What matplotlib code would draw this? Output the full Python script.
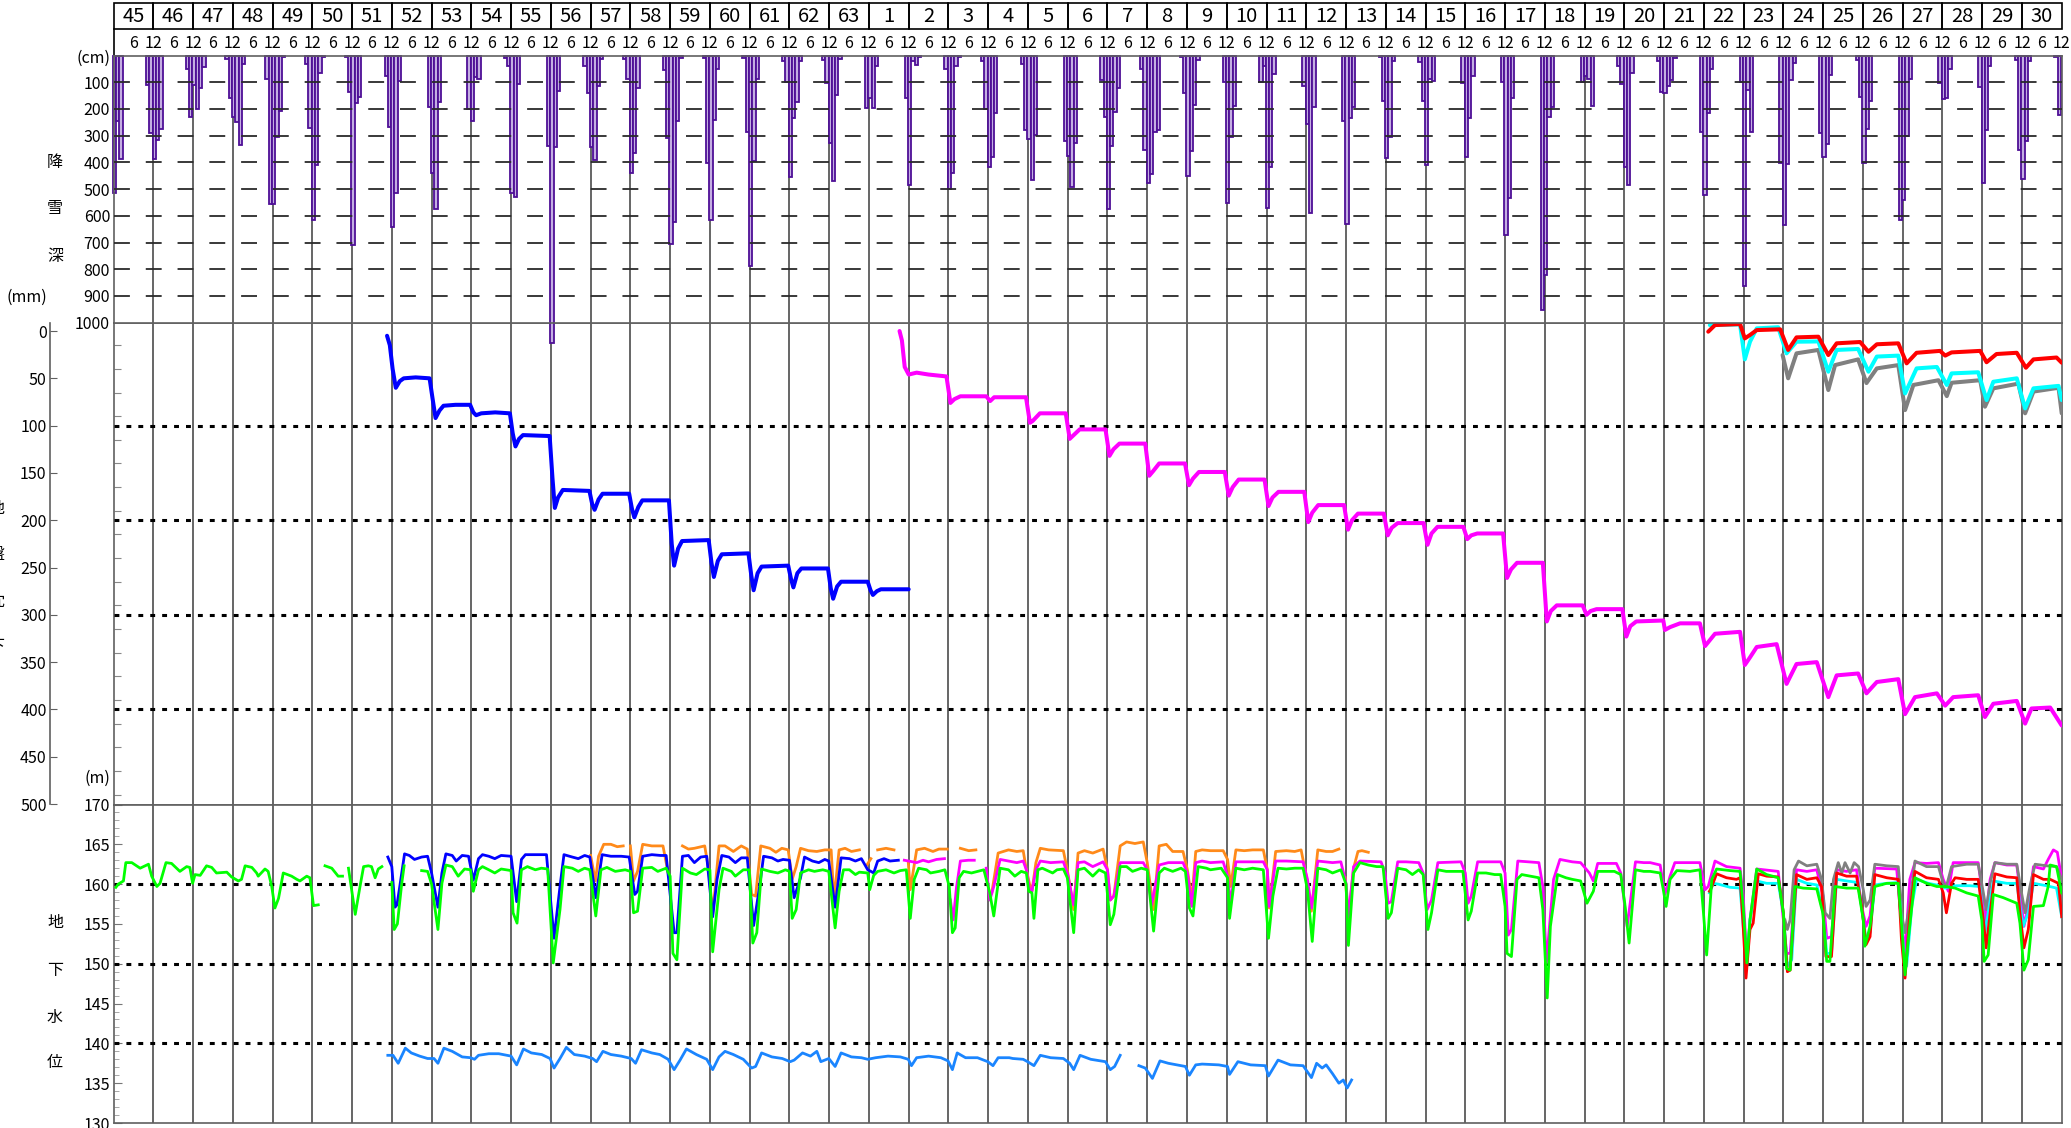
import numpy as np
import matplotlib
matplotlib.use('Agg')
import matplotlib.pyplot as plt
from matplotlib.patches import Rectangle

plt.rcParams['font.family'] = ['Noto Sans CJK JP', 'DejaVu Sans']

# ---- data -------------------------------------------------------------
# year labels: Showa 45-63, then Heisei 1-30
years = [str(y) for y in range(45, 64)] + [str(y) for y in range(1, 31)]

# monthly snowfall depth (cm) per winter, winter b = around year boundary b
# columns: Nov, Dec, Jan, Feb, Mar, Apr
snow_months = [-2, -1, 0, 1, 2, 3]
snow_depth = [
    [None, None, 516, 244, 386, 0],
    [110, 291, 389, 316, 276, 0],
    [51, 229, 110, 201, 122, 44],
    [12, 160, 229, 248, 335, 31],
    [88, 554, 554, 306, 206, 6],
    [31, 272, 616, 410, 66, 6],
    [6, 135, 710, 179, 156, 0],
    [76, 266, 641, 516, 94, 0],
    [0, 194, 439, 576, 175, 0],
    [0, 200, 244, 79, 89, 0],
    [10, 38, 516, 529, 108, 0],
    [0, 339, 1075, 341, 131, 0],
    [38, 141, 344, 391, 116, 12],
    [14, 89, 439, 364, 120, 0],
    [56, 310, 704, 622, 247, 10],
    [10, 404, 614, 241, 51, 0],
    [10, 285, 789, 394, 89, 0],
    [19, 98, 454, 233, 173, 19],
    [16, 104, 329, 470, 148, 14],
    [0, 198, 160, 198, 38, 0],
    [0, 158, 485, 22, 35, 6],
    [0, 50, 498, 441, 39, 6],
    [22, 201, 416, 379, 216, 0],
    [31, 279, 314, 466, 298, 0],
    [0, 319, 376, 494, 326, 0],
    [91, 229, 576, 339, 210, 122],
    [51, 354, 476, 444, 285, 279],
    [6, 141, 451, 358, 185, 16],
    [0, 98, 551, 304, 189, 0],
    [98, 41, 569, 416, 69, 0],
    [0, 116, 256, 589, 194, 0],
    [0, 244, 631, 235, 191, 0],
    [6, 172, 385, 306, 22, 0],
    [25, 172, 410, 89, 94, 0],
    [0, 104, 381, 235, 76, 0],
    [0, 101, 672, 535, 160, 0],
    [0, 954, 822, 229, 191, 0],
    [0, 100, 75, 89, 189, 0],
    [39, 106, 419, 485, 66, 0],
    [20, 135, 141, 116, 91, 10],
    [0, 285, 522, 214, 51, 0],
    [0, 98, 864, 129, 288, 0],
    [0, 404, 635, 406, 91, 29],
    [0, 291, 381, 331, 72, 0],
    [16, 154, 401, 276, 172, 0],
    [0, 616, 539, 301, 89, 0],
    [0, 104, 164, 160, 50, 0],
    [0, 119, 476, 279, 41, 0],
    [16, 354, 462, 319, 22, 0],
    [6, 222, None, None, None, None],
]

# cumulative subsidence (mm), time in years from start of S45
sub_blue = [(6.88,5),(6.95,15),(7.02,40),(7.1,60),(7.2,53),(7.3,50),(7.6,49),(7.95,50),
    (8.02,70),(8.1,92),(8.2,84),(8.3,79),(8.6,78),(8.97,78),(9.05,86),(9.12,89),(9.25,87),
    (9.6,86),(9.97,87),(10.04,108),(10.11,122),(10.2,114),(10.3,110),(10.97,111),(11.04,155),
    (11.1,187),(11.18,176),(11.3,168),(11.97,169),(12.04,183),(12.1,189),(12.2,178),(12.3,172),
    (12.97,172),(13.04,188),(13.1,197),(13.2,186),(13.3,179),(13.97,179),(14.04,225),(14.1,248),
    (14.2,230),(14.3,222),(14.97,221),(15.04,245),(15.1,260),(15.2,243),(15.3,236),(15.97,235),
    (16.04,258),(16.1,274),(16.2,256),(16.3,249),(16.97,248),(17.04,262),(17.1,271),(17.2,256),
    (17.3,251),(17.97,251),(18.04,272),(18.1,283),(18.2,270),(18.3,265),(18.97,265),(19.04,274),
    (19.1,279),(19.2,275),(19.3,273),(20.0,273)]

sub_magenta = [(19.77,0),(19.83,10),(19.9,38),(20.0,46),(20.2,44),(20.5,46),(20.95,48),
    (21.05,76),(21.15,72),(21.3,69),(21.95,69),(22.05,74),(22.15,70),(22.95,70),(23.05,97),
    (23.12,95),(23.3,87),(23.95,87),(24.05,114),(24.15,110),(24.3,104),(24.95,104),(25.05,132),
    (25.15,125),(25.3,119),(25.95,119),(26.05,153),(26.15,148),(26.3,140),(26.95,140),
    (27.05,163),(27.15,156),(27.3,149),(27.95,149),(28.05,174),(28.15,165),(28.3,157),
    (28.95,157),(29.05,185),(29.15,176),(29.3,170),(29.95,170),(30.05,202),(30.15,192),
    (30.3,184),(30.95,184),(31.05,210),(31.15,200),(31.3,193),(31.95,193),(32.05,216),
    (32.15,208),(32.3,203),(32.95,203),(33.05,226),(33.15,214),(33.3,207),(33.95,207),
    (34.05,220),(34.15,216),(34.3,214),(34.95,214),(35.05,261),(35.15,252),(35.3,245),
    (35.95,245),(36.05,307),(36.15,296),(36.3,290),(36.95,290),(37.05,300),(37.15,296),
    (37.3,294),(37.95,294),(38.05,323),(38.15,312),(38.3,307),(38.98,306),(39.02,316),
    (39.15,313),(39.4,309),(39.9,309),(40.03,333),(40.28,320),(40.91,318),(41.03,353),
    (41.16,345),(41.33,334),(41.83,331),(42.08,373),(42.33,352),(42.84,350),(43.13,387),
    (43.34,364),(43.88,362),(44.09,383),(44.35,371),(44.89,368),(45.06,405),(45.31,387),
    (45.86,383),(46.07,396),(46.27,387),(46.9,385),(47.07,408),(47.28,394),(47.87,391),
    (48.08,415),(48.24,399),(48.71,398),(49.0,417)]

sub_red = [(40.11,0.7),(40.28,-6.3),(40.91,-7.4),(41.03,7.8),(41.16,4.2),(41.33,-1),(41.92,-1.8),
    (42.12,20),(42.33,6.7),(42.88,6),(43.13,25.4),(43.34,13),(43.93,11.6),(44.14,21.9),
    (44.35,14),(44.89,13),(45.1,34.2),(45.35,23),(45.94,21),(46.07,26),(46.23,22.6),(46.95,21),
    (47.11,33),(47.36,24.3),(47.87,23),(48.1,38.8),(48.29,30),(48.87,28),(49.0,33.5)]

sub_cyan = [(40.15,-6.3),(40.91,-7),(41.03,30),(41.16,11.3),(41.33,-2.8),(41.87,-4),(42.08,23.6),
    (42.33,11.3),(42.88,11),(43.13,43),(43.34,20),(43.88,19),(44.14,43),(44.35,27),(44.89,26),
    (45.06,66),(45.35,39.5),(45.86,38),(46.11,57),(46.23,44.8),(46.9,43.6),(47.11,73),
    (47.28,53.6),(47.87,50),(48.08,81.8),(48.29,60.6),(48.92,58),(49.0,73)]

sub_gray = [(41.98,25.4),(42.12,50),(42.33,23.6),(42.88,20),(43.13,62.4),(43.3,36),(43.88,30),
    (44.09,55),(44.35,39.5),(44.89,36),(45.06,83.6),(45.27,57),(45.9,52),(46.11,68.8),
    (46.23,54.7),(46.95,52),(47.07,80),(47.28,60.6),(47.91,55.6),(48.08,87),(48.29,64),
    (48.92,60),(49.0,87)]

# groundwater level (m)
gw_green = [(0.06,159.6),(0.12,160.0),(0.25,160.4),(0.31,162.7),(0.46,162.7),(0.67,162.0),
    (0.88,162.5),(0.96,161.0),(1.09,159.7),(1.17,160.1),(1.32,162.7),(1.46,162.6),(1.67,161.6),
    (1.84,162.2),(1.92,162.1),(1.99,160.1),(2.05,161.2),(2.18,161.1),(2.34,162.3),(2.47,162.1),
    (2.59,161.4),(2.85,161.5),(2.97,160.9),(3.14,160.4),(3.22,160.6),(3.31,162.3),(3.48,162.1),
    (3.60,161.4),(3.64,161.0),(3.81,161.9),(3.89,161.6),(3.98,159.7),(4.06,157.0),(4.15,158.2),
    (4.27,161.4),(4.48,161.0),(4.61,160.6),(4.69,160.4),(4.86,161.0),(4.94,160.8),(5.03,157.3),
    (5.15,157.4), None,
    (5.32,162.3),(5.49,162.0),(5.65,161.0),(5.76,161.0), None,
    (5.91,162.0),(6.08,156.2),(6.20,159.7),(6.29,162.2),(6.41,162.3),(6.49,162.2),(6.58,160.8),
    (6.66,161.9),(6.75,162.2), None,
    (7.0,160.2),(7.06,154.3),(7.14,155.0),(7.25,160.1),(7.31,162.3), None,
    (7.75,161.7),(7.9,161.6),(8.0,160.0),(8.16,154.3),(8.26,160.1),(8.36,162.4),(8.52,162.2),
    (8.67,161.0),(8.83,161.9),(8.98,161.8),(9.05,159.1),(9.18,161.8),(9.28,162.2),(9.44,161.8),
    (9.59,161.4),(9.75,161.9),(10.0,161.7),(10.05,156.4),(10.15,155.1),(10.26,161.8),
    (10.41,162.2),(10.61,161.8),(10.76,162.0),(10.92,161.9),(11.06,150.1),(11.23,156.8),
    (11.33,162.2),(11.54,162.0),(11.69,161.6),(11.85,162.0),(11.98,161.8),(12.13,156.0),
    (12.26,161.8),(12.41,162.1),(12.62,161.6),(12.87,161.8),(13.0,161.6),(13.08,156.4),
    (13.18,156.6),(13.31,162.0),(13.54,162.1),(13.69,161.6),(13.9,162.0),(14.0,161.0),
    (14.07,151.3),(14.17,150.5),(14.31,162.0),(14.51,161.4),(14.66,161.2),(14.87,161.9),
    (15.0,161.8),(15.07,151.5),(15.23,159.3),(15.33,162.0),(15.54,161.6),(15.64,161.0),
    (15.84,161.8),(15.99,161.8),(16.08,152.6),(16.18,153.9),(16.3,161.9),(16.51,161.6),
    (16.71,161.4),(16.9,161.8),(17.0,161.6),(17.07,155.7),(17.17,156.8),(17.28,161.4),
    (17.48,161.8),(17.63,161.6),(17.84,161.8),(17.99,161.6),(18.15,154.5),(18.25,159.1),
    (18.36,161.8),(18.51,161.8),(18.66,161.2),(18.76,161.5),(18.97,161.4),(19.02,159.3),
    (19.12,161.1),(19.22,161.6),(19.43,161.8),(19.63,161.4),(19.79,161.7),(19.94,161.8),
    (20.04,155.7),(20.14,160.6),(20.25,162.0),(20.45,161.8),(20.55,161.4),(20.76,161.6),
    (20.91,161.8),(21.02,159.7),(21.1,153.9),(21.17,154.5),(21.27,160.8),(21.38,161.6),
    (21.58,161.4),(21.73,161.6),(21.89,161.8),(22.04,158.9),(22.14,156.0),(22.3,162.0),
    (22.51,161.8),(22.67,161.0),(22.83,161.6),(22.96,161.4),(23.02,159.1),(23.1,158.9),
    (23.15,155.7),(23.25,161.8),(23.36,162.0),(23.62,161.4),(23.73,161.8),(23.89,161.9),
    (23.99,160.8),(24.15,153.9),(24.26,161.8),(24.42,162.0),(24.63,161.0),(24.79,161.8),
    (24.95,161.4),(25.07,154.9),(25.16,156.2),(25.32,162.2),(25.48,162.2),(25.63,161.6),
    (25.85,162.0),(26.0,161.8),(26.16,154.1),(26.3,161.4),(26.43,162.0),(26.64,161.6),
    (26.85,162.0),(26.96,161.6),(27.06,157.0),(27.15,156.0),(27.28,162.2),(27.49,162.0),
    (27.59,161.8),(27.86,162.0),(28.02,160.8),(28.07,155.7),(28.23,162.0),(28.44,161.8),
    (28.65,162.0),(28.92,161.8),(29.05,153.2),(29.16,158.5),(29.29,162.0),(29.5,161.9),
    (29.71,162.0),(29.92,162.0),(30.03,159.3),(30.15,152.8),(30.29,162.0),(30.5,161.8),
    (30.66,161.4),(30.87,161.8),(31.0,160.0),(31.06,152.3),(31.19,161.4),(31.35,162.7),
    (31.56,162.4),(31.77,162.2),(31.93,162.2),(32.06,155.7),(32.14,156.4),(32.3,162.0),
    (32.51,161.8),(32.67,161.2),(32.83,161.8),(32.94,161.2),(33.06,154.3),(33.15,156.4),
    (33.31,161.8),(33.52,161.6),(33.73,161.6),(33.94,161.6),(34.07,155.5),(34.15,156.6),
    (34.31,161.4),(34.52,161.4),(34.74,161.2),(34.89,161.2),(35.0,157.2),(35.05,151.3),
    (35.16,150.9),(35.3,160.6),(35.42,161.2),(35.63,161.0),(35.85,160.8),(35.95,156.8),
    (36.06,145.7),(36.14,154.7),(36.32,161.2),(36.53,160.8),(36.69,160.6),(36.9,160.4),
    (37.06,157.6),(37.22,159.1),(37.33,161.6),(37.54,161.6),(37.75,161.6),(37.91,161.2),
    (38.01,157.6),(38.12,152.6),(38.28,161.8),(38.49,161.6),(38.65,161.6),(38.9,161.4),
    (38.98,159.3),(39.05,157.2),(39.15,160.6),(39.32,161.7),(39.65,161.6),(39.9,161.8),
    (39.99,156.4),(40.07,151.1),(40.2,160.6),(40.32,161.9),(40.66,161.7),(40.91,161.6),
    (40.99,157.2),(41.08,150.1),(41.16,155.5),(41.33,161.9),(41.58,161.2),(41.87,160.8),
    (42.0,156.4),(42.08,149.4),(42.17,149.2),(42.29,159.7),(42.5,159.5),(42.84,159.4),
    (42.99,156.4),(43.09,150.3),(43.17,150.3),(43.3,159.7),(43.59,159.5),(43.88,159.5),
    (44.01,155.5),(44.05,152.2),(44.18,154.7),(44.3,159.7),(44.6,160.1),(44.89,160.1),
    (44.97,155.1),(45.06,148.6),(45.14,153.0),(45.31,160.8),(45.6,160.1),(45.86,159.7),
    (46.07,159.7),(46.32,159.5),(46.61,158.9),(46.9,158.5),(46.99,155.5),(47.05,150.3),
    (47.15,151.1),(47.28,158.7),(47.53,158.3),(47.87,157.6),(47.95,155.1),(48.05,149.2),
    (48.16,150.5),(48.29,157.2),(48.54,157.3),(48.66,159.7),(48.71,162.4),(48.87,162.2),
    (49.0,158.9)]

gw_blue = [(6.9,163.4),(7.0,162.2),(7.08,157.1),(7.13,157.4),(7.2,159.7),(7.32,163.8),
    (7.44,163.6),(7.57,163.1),(7.75,163.4),(7.9,163.5),(8.0,161.4),(8.16,157.1),(8.26,161.4),
    (8.36,163.8),(8.52,163.6),(8.62,162.9),(8.77,163.6),(8.93,163.5),(9.05,160.5),(9.18,163.2),
    (9.28,163.7),(9.44,163.5),(9.59,163.2),(9.75,163.6),(10.0,163.5),(10.14,157.8),(10.26,163.1),
    (10.36,163.7),(10.57,163.7),(10.89,163.7),(11.08,153.2),(11.23,159.7),(11.33,163.7),
    (11.54,163.4),(11.69,163.2),(11.85,163.6),(11.98,163.4),(12.13,158.3),(12.29,163.7),
    (12.51,163.5),(12.77,163.5),(12.97,163.4),(13.11,158.7),(13.18,159.1),(13.31,163.5),
    (13.54,163.7),(13.76,163.6),(13.9,163.6),(14.1,153.9),(14.17,153.9),(14.31,163.5),
    (14.46,163.6),(14.61,162.7),(14.77,163.4),(14.92,163.5),(15.07,155.9),(15.18,160.6),
    (15.3,163.6),(15.48,163.4),(15.64,162.7),(15.79,163.3),(15.94,163.3),(16.1,154.8),
    (16.25,159.7),(16.35,163.5),(16.56,163.3),(16.71,162.9),(16.84,163.1),(17.0,163.0),
    (17.12,158.3),(17.28,160.8),(17.38,163.4),(17.58,162.9),(17.74,162.7),(17.89,163.1),
    (17.99,162.9),(18.15,157.1),(18.3,163.3),(18.51,163.2),(18.66,162.9),(18.81,163.2),
    (18.97,161.8),(19.05,161.6),(19.12,161.4),(19.22,162.9),(19.38,163.2),(19.53,162.9),
    (19.74,163.0)]

gw_orange = [(12.0,163.6),(12.12,160.4),(12.2,163.5),(12.33,165.0),(12.51,165.0),(12.67,164.7),
    (12.82,164.8), None,
    (13.0,164.8),(13.08,160.4),(13.18,161.6),(13.31,165.0),(13.54,164.8),(13.69,164.8),
    (13.82,164.8),(13.95,161.4), None,
    (14.31,164.8),(14.46,164.4),(14.61,164.5),(14.87,164.8),(14.97,161.8),(15.07,156.2),
    (15.23,164.8),(15.38,164.8),(15.59,164.1),(15.79,164.8),(15.94,164.4),(16.05,158.7),
    (16.15,158.5),(16.28,164.8),(16.51,164.5),(16.66,164.0),(16.81,164.5),(16.97,164.3),
    (17.07,160.6),(17.17,162.2),(17.28,164.5),(17.48,164.2),(17.69,164.1),(17.89,164.3),
    (18.05,164.3),(18.12,158.0),(18.25,164.3),(18.4,164.5),(18.56,164.1),(18.76,164.3), None,
    (18.95,162.4),(19.05,163.2), None,
    (19.22,164.3),(19.43,164.5),(19.63,164.3), None,
    (19.99,162.7),(20.04,159.3),(20.2,164.3),(20.4,164.5),(20.61,164.1),(20.76,164.4),
    (20.97,164.4), None,
    (21.3,164.5),(21.51,164.2),(21.69,164.3), None,
    (22.09,158.9),(22.25,163.9),(22.51,164.3),(22.72,164.1),(22.88,164.2),(22.96,161.8),
    (23.04,160.0),(23.1,159.1),(23.2,162.7),(23.31,164.5),(23.52,164.3),(23.89,164.2),
    (23.99,161.8),(24.15,156.8),(24.26,163.9),(24.42,164.2),(24.63,163.9),(24.89,164.4),
    (25.0,161.8),(25.07,158.0),(25.16,158.5),(25.32,164.8),(25.48,165.3),(25.69,165.1),
    (25.9,165.3),(26.0,162.7),(26.16,156.8),(26.3,164.8),(26.48,165.0),(26.64,164.1),
    (26.9,164.1),(27.01,161.8),(27.12,158.0),(27.22,164.1),(27.38,164.3),(27.59,164.2),
    (27.91,164.2),(28.02,163.1),(28.1,159.7),(28.23,164.3),(28.44,164.2),(28.65,164.3),
    (28.92,164.3),(29.02,161.8),(29.07,157.0),(29.23,164.1),(29.5,164.2),(29.71,164.1),
    (29.87,164.3),(30.0,161.0),(30.13,156.6),(30.29,164.3),(30.5,164.1),(30.66,164.1),
    (30.82,164.4), None,
    (30.98,160.8),(31.06,155.7),(31.19,162.0),(31.3,164.1),(31.4,164.2),(31.56,164.0)]

gw_magenta = [(19.89,163.0),(20.0,162.9),(20.2,162.7),(20.36,163.0),(20.5,162.8),(20.7,163.1),
    (20.9,163.2), None,
    (21.05,158.0),(21.12,155.5),(21.2,159.5),(21.3,162.9),(21.5,163.0),(21.65,163.0), None,
    (21.95,162.0),(22.04,158.0),(22.14,159.7),(22.3,163.1),(22.51,162.9),(22.72,162.7),
    (22.88,162.9),(22.96,161.8),(23.04,159.3),(23.1,159.1),(23.2,161.8),(23.31,162.9),
    (23.57,162.7),(23.89,162.8),(23.99,161.4),(24.15,157.4),(24.26,162.7),(24.42,162.8),
    (24.63,162.2),(24.89,162.8),(25.0,161.8),(25.07,158.0),(25.16,158.5),(25.32,162.7),
    (25.48,162.7),(25.9,162.7),(26.0,161.8),(26.11,157.4),(26.3,162.4),(26.53,162.7),
    (26.9,162.7),(27.01,161.4),(27.12,157.2),(27.22,162.7),(27.38,162.9),(27.59,162.7),
    (27.91,162.8),(28.02,161.0),(28.1,157.6),(28.23,162.8),(28.44,162.8),(28.92,162.8),
    (29.02,161.8),(29.07,157.2),(29.23,162.9),(29.5,162.9),(29.92,162.8),(30.03,160.6),
    (30.13,157.0),(30.29,162.9),(30.66,162.7),(30.87,162.8),(31.0,160.1),(31.06,155.9),
    (31.19,162.2),(31.35,162.9),(31.88,162.8),(31.98,161.4),(32.06,157.6),(32.14,157.8),
    (32.3,162.8),(32.51,162.8),(32.83,162.7),(32.94,161.4),(33.04,156.8),(33.15,158.0),
    (33.31,162.7),(33.89,162.8),(34.0,161.4),(34.07,157.6),(34.15,158.5),(34.31,162.8),
    (34.58,162.8),(34.89,162.8),(35.0,161.4),(35.08,153.6),(35.16,154.3),(35.32,162.9),
    (35.58,162.8),(35.85,162.7),(35.95,159.7),(36.04,150.1),(36.11,154.3),(36.22,160.6),
    (36.38,163.1),(36.69,162.8),(36.9,162.7),(37.12,161.4),(37.22,160.4),(37.33,162.6),
    (37.8,162.6),(37.91,161.4),(38.07,154.7),(38.17,158.5),(38.28,162.8),(38.49,162.7),
    (38.65,162.7),(38.9,162.4),(39.02,158.7),(39.15,161.0),(39.27,162.7),(39.9,162.7),
    (40.03,159.3),(40.11,159.7),(40.28,162.9),(40.57,162.2),(40.91,162.0),(40.99,158.5),
    (41.08,150.5),(41.16,155.5),(41.33,161.9),(41.87,161.6),(42.0,155.5),(42.08,151.3),
    (42.17,151.3),(42.33,161.8),(42.59,161.6),(42.84,161.8),(43.0,158.5),(43.09,153.2),
    (43.21,153.4),(43.34,161.8),(43.59,161.6),(43.84,161.8),(43.97,157.2),(44.08,154.7),
    (44.18,156.0),(44.3,162.0),(44.85,161.9),(44.93,157.2),(45.06,151.3),(45.18,160.6),
    (45.31,162.7),(45.6,162.6),(45.9,162.7),(46.02,160.6),(46.15,159.1),(46.27,162.7),
    (46.61,162.7),(46.9,162.7),(46.99,159.3),(47.07,154.9),(47.2,160.6),(47.32,162.7),
    (47.62,162.4),(47.87,162.4),(47.97,158.5),(48.05,154.7),(48.16,157.2),(48.29,162.2),
    (48.54,161.9),(48.66,163.1),(48.79,164.3),(48.89,164.0),(49.0,160.6)]

gw_red = [(40.14,159.1),(40.2,159.7),(40.32,161.3),(40.57,160.8),(40.82,160.6),(40.91,160.8),
    (40.98,155.5),(41.06,148.2),(41.16,154.3),(41.24,155.1),(41.37,161.3),(41.58,161.0),
    (41.87,160.9),(42.0,156.4),(42.1,149.0),(42.17,149.2),(42.33,161.2),(42.59,160.6),
    (42.84,160.8),(42.96,159.7),(43.07,150.9),(43.21,150.9),(43.34,161.4),(43.59,161.0),
    (43.84,161.0),(43.97,157.2),(44.08,152.4),(44.18,153.4),(44.3,161.2),(44.6,160.8),
    (44.89,160.6),(44.97,153.0),(45.06,148.2),(45.18,156.4),(45.31,161.6),(45.6,160.8),
    (45.9,160.6),(46.02,158.9),(46.1,156.4),(46.23,160.1),(46.32,160.8),(46.61,160.6),
    (46.9,160.6),(47.03,155.5),(47.1,152.0),(47.2,156.4),(47.32,161.3),(47.62,160.9),
    (47.87,160.8),(47.95,156.4),(48.05,152.0),(48.16,154.3),(48.29,161.2),(48.54,160.6),
    (48.71,160.6),(48.92,160.1),(49.0,155.9)]

gw_cyan = [(40.14,158.9),(40.24,160.1),(40.36,160.0),(40.66,159.6),(40.91,159.5),(40.99,154.7),
    (41.08,149.7),(41.16,155.5),(41.33,160.4),(41.58,160.1),(41.87,160.1),(42.0,156.4),
    (42.1,149.7),(42.21,150.5),(42.33,160.6),(42.59,160.1),(42.84,159.9),(43.0,156.4),
    (43.09,151.3),(43.21,151.3),(43.34,160.6),(43.59,160.4),(43.88,160.2),(44.01,155.5),
    (44.08,153.0),(44.18,153.9),(44.3,159.9),(44.6,160.1),(44.89,160.2),(45.02,152.2),
    (45.1,149.7),(45.23,157.2),(45.35,160.6),(45.65,160.1),(45.94,159.8),(46.07,159.5),
    (46.2,159.7),(46.36,159.8),(46.69,159.8),(46.94,159.7),(47.07,153.9),(47.15,156.4),
    (47.28,160.4),(47.62,160.1),(47.87,160.1),(48.03,154.7),(48.16,156.4),(48.29,160.1),
    (48.62,159.8),(48.87,159.5),(49.0,155.9)]

gw_gray = [(42.04,155.5),(42.1,154.3),(42.17,155.5),(42.27,161.8),(42.38,162.9),(42.59,162.3),
    (42.84,162.5),(42.96,160.6),(43.05,156.4),(43.17,155.7),(43.26,160.6),(43.38,162.7),
    (43.47,161.4),(43.55,162.7),(43.68,161.4),(43.78,162.7),(43.89,162.2),(44.01,159.3),
    (44.08,157.2),(44.18,158.0),(44.3,162.5),(44.6,162.3),(44.89,162.2),(45.0,155.5),
    (45.06,153.9),(45.17,157.2),(45.31,162.9),(45.6,162.2),(45.9,162.2),(46.02,160.1),
    (46.1,159.7),(46.23,162.2),(46.61,162.5),(46.9,162.5),(47.03,158.9),(47.1,156.8),
    (47.2,160.1),(47.32,162.7),(47.62,162.5),(47.87,162.5),(47.99,158.9),(48.08,156.4),
    (48.2,159.7),(48.33,162.5),(48.62,162.3),(48.87,162.2),(49.0,160.6)]

gw_lightblue = [(6.9,138.5),(7.03,138.5),(7.16,137.5),(7.34,139.4),(7.49,138.8),(7.7,138.4),
    (7.9,138.1),(8.06,138.1),(8.16,137.5),(8.31,139.4),(8.52,139.0),(8.77,138.3),(8.98,138.2),
    (9.08,138.0),(9.18,138.5),(9.44,138.7),(9.69,138.7),(10.0,138.4),(10.14,137.3),(10.31,139.3),
    (10.51,138.8),(10.77,138.6),(10.98,138.1),(11.08,136.9),(11.23,138.1),(11.39,139.5),
    (11.59,138.6),(11.85,138.4),(12.05,138.1),(12.15,137.7),(12.31,139.0),(12.51,138.6),
    (12.77,138.4),(13.02,138.1),(13.13,137.5),(13.28,139.2),(13.54,138.8),(13.74,138.6),
    (13.95,138.0),(14.1,136.7),(14.25,137.9),(14.41,139.3),(14.66,138.6),(14.92,138.0),
    (15.07,136.7),(15.23,138.3),(15.38,139.0),(15.59,138.6),(15.84,138.0),(16.05,136.9),
    (16.15,137.1),(16.3,138.8),(16.56,138.3),(16.82,138.1),(17.02,137.7),(17.12,137.9),
    (17.33,138.8),(17.53,138.4),(17.69,139.0),(17.79,137.7),(17.99,138.1),(18.15,137.1),
    (18.3,138.8),(18.56,138.3),(18.81,138.2),(18.97,138.0),(19.17,138.2),(19.48,138.4),
    (19.79,138.3),(19.99,138.0),(20.07,137.2),(20.2,138.2),(20.5,138.4),(20.81,138.2),
    (20.99,137.8),(21.1,136.7),(21.22,138.8),(21.43,138.2),(21.73,138.2),(21.99,137.7),
    (22.12,137.2),(22.25,138.2),(22.53,138.2),(22.62,138.1),(22.88,138.0),(22.99,137.7),
    (23.15,137.2),(23.31,138.5),(23.57,138.2),(23.89,138.1),(24.05,137.5),(24.15,136.7),
    (24.31,138.5),(24.58,138.0),(24.95,137.7),(25.07,136.7),(25.18,137.1),(25.32,138.5), None,
    (25.79,137.2),(25.95,136.9),(26.13,135.6),(26.32,137.8),(26.53,137.5),(26.96,137.1),
    (27.06,136.0),(27.22,137.3),(27.38,137.4),(27.8,137.3),(28.02,137.1),(28.07,136.1),
    (28.28,137.7),(28.6,137.3),(28.97,137.2),(29.05,135.9),(29.29,137.9),(29.6,137.3),
    (29.92,137.2),(30.13,135.7),(30.26,137.5),(30.4,136.9),(30.5,137.3),(30.66,136.2),
    (30.82,135.0),(30.93,135.4),(31.03,134.4),(31.14,135.4)]


def xy(pts):
    t = np.array([np.nan if p is None else p[0] for p in pts], dtype=float)
    v = np.array([np.nan if p is None else p[1] for p in pts], dtype=float)
    return t, v


# ---- layout -------------------------------------------------------------
W, H = 2071, 1128
fig = plt.figure(figsize=(W / 100, H / 100), dpi=100)


def fy(py):
    return 1 - py / H


x_left, x_right = 113.5, 2061.7
left = x_left / W
width = (x_right - x_left) / W
nyears = len(years)

y_head, y_snow, y_sub, y_gw, y_end = 2.7, 55.5, 322.7, 804.5, 1123.0

ax_head = fig.add_axes([left, fy(y_snow), width, (y_snow - y_head) / H])
ax_snow = fig.add_axes([left, fy(y_sub), width, (y_sub - y_snow) / H])
ax_sub = fig.add_axes([left, fy(y_gw), width, (y_gw - y_sub) / H])
ax_gw = fig.add_axes([left, fy(y_end), width, (y_end - y_gw) / H])
# the deepest snow bar runs past the panel into the one below
ax_snow.set_zorder(3)

grid_col = '#3c3c3c'
frame_col = '#606060'
tick_fs = 11.5

# ---- header -------------------------------------------------------------
ax_head.set_xlim(0, nyears)
ax_head.set_ylim(0, 2)
ax_head.axis('off')
for i, lab in enumerate(years):
    ax_head.add_patch(Rectangle((i, 1), 1, 1, fill=False, edgecolor='black', lw=1.2,
                                clip_on=False))
    ax_head.text(i + 0.5, 1.47, lab, ha='center', va='center', fontsize=14.5)
    ax_head.text(i + 0.5, 0.47, '6', ha='center', va='center', fontsize=tick_fs)
    ax_head.text(i + 1.0, 0.47, '12', ha='center', va='center', fontsize=tick_fs,
                 clip_on=False)
ax_head.plot([0, 0], [0, 1], color='black', lw=1.2, clip_on=False)

# ---- snowfall panel ----------------------------------------------------
bx, bh = [], []
for b, row in enumerate(snow_depth):
    for k, val in zip(snow_months, row):
        if val:
            bx.append(b + (k - 0.2) / 12)
            bh.append(val)
ax_snow.bar(bx, bh, width=1 / 12, align='edge', color='#c4aee2', edgecolor='#4e0f96',
            linewidth=1.3, clip_on=False, zorder=2)
ax_snow.set_xlim(0, nyears)
ax_snow.set_ylim(1000, 0)
ax_snow.set_yticks(range(100, 1001, 100))
ax_snow.tick_params(axis='y', length=0, pad=2.5, labelsize=tick_fs)
for yv in range(100, 1000, 100):
    ax_snow.axhline(yv, color='#2a2a2a', lw=1.3, ls=(0, (8.8, 8.8)), zorder=3)

# ---- subsidence panel -------------------------------------------------
sub_top, sub_bot = -8.8, 500.5
ax_sub.set_xlim(0, nyears)
ax_sub.set_ylim(sub_bot, sub_top)
ax_sub.set_yticks(np.arange(15, 500, 25))
ax_sub.tick_params(axis='y', direction='in', length=5, color='#888888', labelleft=False)
for yv in [100, 200, 300, 400]:
    ax_sub.axhline(yv, color='black', lw=2.2, ls=(0, (1.6, 2.3)), zorder=3)
for pts, col in [(sub_blue, '#0000ff'), (sub_magenta, '#ff00ff'), (sub_gray, '#808080'),
                 (sub_cyan, '#00ffff'), (sub_red, '#ff0000')]:
    t, v = xy(pts)
    ax_sub.plot(t, v, color=col, lw=2.9, zorder=4, solid_capstyle='round',
                solid_joinstyle='round')

# outer scale for subsidence
ax_out = fig.add_axes([50 / W, fy(y_gw), 1e-5, (y_gw - y_sub) / H])
ax_out.set_ylim(sub_bot, sub_top)
ax_out.patch.set_visible(False)
for s in ['top', 'right', 'bottom']:
    ax_out.spines[s].set_visible(False)
ax_out.spines['left'].set_bounds(sub_top, 500)
ax_out.spines['left'].set_color(frame_col)
ax_out.spines['left'].set_linewidth(1.2)
ax_out.set_xticks([])
ax_out.set_yticks(range(0, 501, 50))
ax_out.tick_params(axis='y', direction='in', length=5, pad=2.5, labelsize=tick_fs,
                   color=frame_col)

# ---- groundwater panel ------------------------------------------------
ax_gw.set_xlim(0, nyears)
ax_gw.set_ylim(130, 170)
ax_gw.set_yticks(range(130, 171, 5))
ax_gw.set_yticks(range(130, 171), minor=True)
ax_gw.tick_params(axis='y', which='major', direction='in', length=6, pad=2.5,
                  labelsize=tick_fs, color='#777777')
ax_gw.tick_params(axis='y', which='minor', direction='in', length=3.5, color='#999999')
for yv in [160, 150, 140]:
    ax_gw.axhline(yv, color='black', lw=2.2, ls=(0, (1.6, 2.3)), zorder=3)
for pts, col in [(gw_lightblue, '#1a85ff'), (gw_orange, '#ff8a1a'), (gw_blue, '#0000ff'),
                 (gw_magenta, '#ff00ff'), (gw_gray, '#808080'), (gw_cyan, '#00ffff'),
                 (gw_red, '#ff0000'), (gw_green, '#00ff00')]:
    t, v = xy(pts)
    ax_gw.plot(t, v, color=col, lw=2.0, zorder=4, solid_joinstyle='round')

# ---- shared frame / grid ------------------------------------------------
for ax in [ax_snow, ax_sub, ax_gw]:
    ax.set_xticks([])
    for b in range(1, nyears):
        ax.axvline(b, color=grid_col, lw=1.1, zorder=1)
    for s in ax.spines.values():
        s.set_color(frame_col)
        s.set_linewidth(1.2)

# ---- side labels --------------------------------------------------------
fig.text(110 / W, fy(58), '(cm)', ha='right', va='center', fontsize=tick_fs)
fig.text(27 / W, fy(297), '(mm)', ha='center', va='center', fontsize=tick_fs)
fig.text(110 / W, fy(778), '(m)', ha='right', va='center', fontsize=tick_fs)
for ch, yy in zip('降雪深', [163, 209, 256]):
    fig.text(55 / W, fy(yy), ch, ha='center', va='center', fontsize=tick_fs)
for ch, yy in zip('地下水位', [923, 970, 1017, 1062]):
    fig.text(55 / W, fy(yy), ch, ha='center', va='center', fontsize=tick_fs)
for ch, yy in zip('地盤沈下', [509, 555, 601, 647]):
    fig.text(4 / W, fy(yy), ch, ha='right', va='center', fontsize=tick_fs)

fig.savefig('out.png', dpi=100)
